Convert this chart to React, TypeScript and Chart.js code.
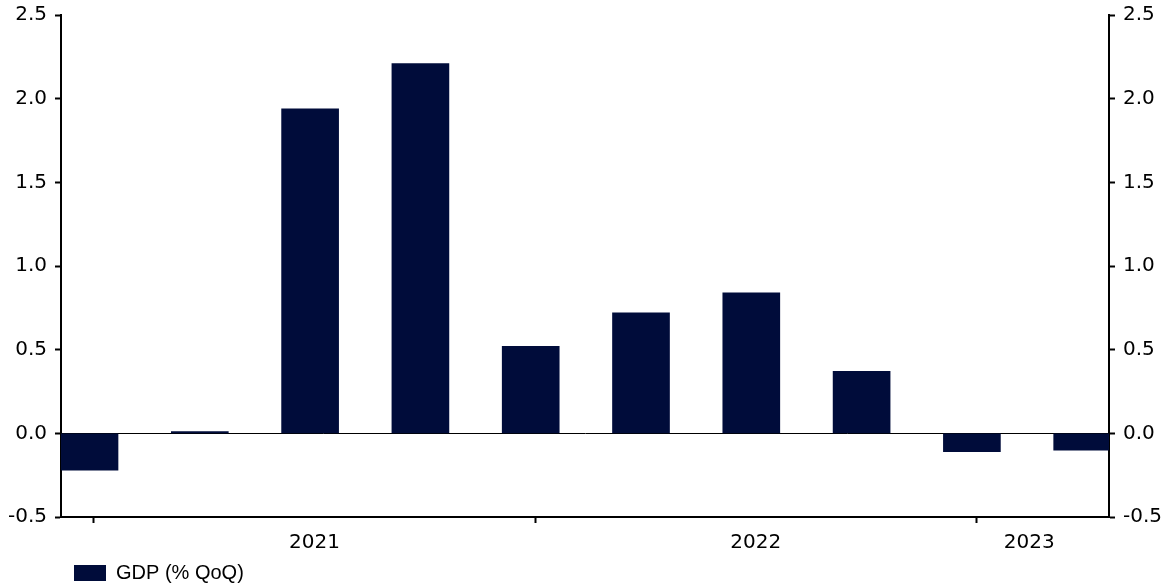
import React, { useEffect, useRef } from 'react';
import { Chart, registerables } from 'chart.js';

Chart.register(...registerables);

// Quarterly GDP growth (% QoQ)
const quarters = ['Q4 2020', 'Q1 2021', 'Q2 2021', 'Q3 2021', 'Q4 2021', 'Q1 2022', 'Q2 2022', 'Q3 2022', 'Q4 2022', 'Q1 2023'];
const gdp = [-0.22, 0.01, 1.94, 2.21, 0.52, 0.72, 0.84, 0.37, -0.11, -0.10];

// Year axis: boundaries (in quarter-index units) and year labels
const yearStarts = [0.04, 4.04, 8.04];
const yearLabels = ['2021', '2022', '2023'];
const yearLabelAt = [2.04, 6.04, 8.52];

const yTicks = [-0.5, 0, 0.5, 1.0, 1.5, 2.0, 2.5];
const seriesLabel = 'GDP (% QoQ)';

type XTick = { value: number; label: string; mark: boolean };
const xTicks: XTick[] = [
  ...yearStarts.map((v) => ({ value: v, label: '', mark: true })),
  ...yearLabelAt.map((v, i) => ({ value: v, label: yearLabels[i], mark: false })),
].sort((a, b) => a.value - b.value);

export default function App() {
  const canvasRef = useRef<HTMLCanvasElement | null>(null);

  useEffect(() => {
    if (!canvasRef.current) return;
    const axisFont = { family: '"DejaVu Sans", Verdana, sans-serif', size: 20 };
    const chart = new Chart(canvasRef.current, {
      type: 'bar',
      data: {
        labels: quarters,
        datasets: [
          {
            label: seriesLabel,
            data: gdp.map((v, i) => ({ x: i, y: v })) as any,
            backgroundColor: '#000c3a',
            borderWidth: 0,
            barThickness: 57,
          },
        ],
      },
      options: {
        animation: false,
        responsive: true,
        maintainAspectRatio: false,
        layout: { padding: { top: 15, right: 0, left: 0, bottom: -5 } },
        plugins: {
          tooltip: { enabled: false },
          legend: {
            position: 'bottom',
            align: 'start',
            fullSize: false,
            labels: {
              boxWidth: 32,
              boxHeight: 16,
              padding: 13,
              color: '#000',
              font: { family: '"Liberation Sans", Arial, sans-serif', size: 20 },
            },
          },
        },
        scales: {
          x: {
            type: 'linear',
            min: -0.2585,
            max: 9.243,
            offset: false,
            afterBuildTicks: (s: any) => {
              s.ticks = xTicks.map((t) => ({ value: t.value }));
            },
            afterFit: (s: any) => {
              s.height = 33;
              s.paddingLeft = 0;
              s.paddingRight = 0;
            },
            ticks: {
              autoSkip: false,
              maxRotation: 0,
              minRotation: 0,
              padding: 8,
              color: '#000',
              font: axisFont,
              callback: (_v: any, i: number) => xTicks[i]?.label ?? '',
            },
            grid: {
              offset: false,
              drawOnChartArea: false,
              drawTicks: true,
              tickLength: 6,
              tickWidth: 2,
              tickColor: (ctx: any) => (xTicks[ctx.index]?.mark ? '#000' : 'rgba(0,0,0,0)'),
            },
            border: { color: '#000', width: 2 },
          },
          y: {
            position: 'left',
            min: -0.5,
            max: 2.5,
            afterBuildTicks: (s: any) => {
              s.ticks = yTicks.map((v) => ({ value: v }));
            },
            afterFit: (s: any) => {
              s.width = 61;
              s.paddingTop = 0;
              s.paddingBottom = 0;
            },
            ticks: {
              padding: 8,
              color: '#000',
              font: axisFont,
              callback: (v: any) => Number(v).toFixed(1),
            },
            grid: {
              drawTicks: true,
              tickLength: 6,
              tickWidth: 2,
              tickColor: '#000',
              lineWidth: 1,
              color: (ctx: any) => (ctx.tick && ctx.tick.value === 0 ? '#000' : 'rgba(0,0,0,0)'),
            },
            border: { color: '#000', width: 2 },
          },
          y2: {
            position: 'right',
            min: -0.5,
            max: 2.5,
            afterBuildTicks: (s: any) => {
              s.ticks = yTicks.map((v) => ({ value: v }));
            },
            afterFit: (s: any) => {
              s.width = 63;
              s.paddingTop = 0;
              s.paddingBottom = 0;
            },
            ticks: {
              padding: 8,
              color: '#000',
              font: axisFont,
              callback: (v: any) => Number(v).toFixed(1),
            },
            grid: {
              drawOnChartArea: false,
              drawTicks: true,
              tickLength: 6,
              tickWidth: 2,
              tickColor: '#000',
            },
            border: { color: '#000', width: 2 },
          },
        },
      } as any,
    });
    return () => chart.destroy();
  }, []);

  return (
    <div style={{ position: 'fixed', left: 0, top: 0, width: 1172, height: 588, background: '#fff' }}>
      <canvas ref={canvasRef} />
    </div>
  );
}
